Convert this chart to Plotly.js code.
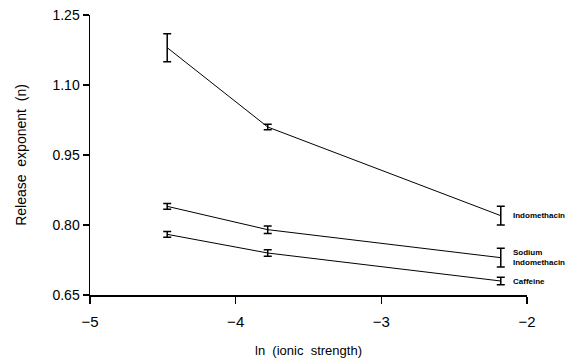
<!DOCTYPE html>
<html>
<head>
<meta charset="utf-8">
<script src="https://cdn.plot.ly/plotly-3.0.1.min.js"></script>
<style>html,body{margin:0;padding:0;background:#fff;}#chart{width:568px;height:358px;}</style>
</head>
<body>
<div id="chart"></div>
<script>
// ln(ionic strength)
const lnIonicStrength = [-4.47, -3.78, -2.18];

const seriesNames = ["Indomethacin", "Sodium<br>Indomethacin", "Caffeine"];
const indomethacin = [1.18, 1.01, 0.82];
const indomethacinErr = [0.03, 0.006, 0.02];
const sodiumIndomethacin = [0.84, 0.79, 0.73];
const sodiumIndomethacinErr = [0.006, 0.008, 0.02];
const caffeine = [0.78, 0.74, 0.68];
const caffeineErr = [0.006, 0.007, 0.008];

const yTicks = [0.65, 0.80, 0.95, 1.10, 1.25];
const xTicks = [-5, -4, -3, -2];

const allY = [indomethacin, sodiumIndomethacin, caffeine];
const allErr = [indomethacinErr, sodiumIndomethacinErr, caffeineErr];

const traces = allY.map((ys, i) => ({
  x: lnIonicStrength,
  y: ys,
  type: "scatter",
  mode: "lines",
  name: seriesNames[i],
  line: {color: "#000", width: 1},
  error_y: {type: "data", array: allErr[i], visible: true, color: "#000", thickness: 1.5, width: 4},
  showlegend: false,
  hoverinfo: "skip"
}));

const annotations = allY.map((ys, i) => ({
  x: lnIonicStrength[lnIonicStrength.length - 1],
  y: ys[ys.length - 1],
  xref: "x", yref: "y",
  text: "<b>" + seriesNames[i] + "</b>",
  showarrow: false,
  xanchor: "left",
  align: "left",
  xshift: 10,
  font: {family: "Liberation Sans, Arial, sans-serif", size: 8, color: "#000"}
}));

const layout = {
  width: 568, height: 358,
  margin: {l: 90, r: 41, t: 15, b: 63},
  paper_bgcolor: "#fff", plot_bgcolor: "#fff",
  font: {family: "Liberation Sans, Arial, sans-serif", color: "#000", size: 13},
  xaxis: {
    range: [-5, -2], tickvals: xTicks, ticktext: xTicks.map(v => v < 0 ? "\u2212" + Math.abs(v) : String(v)),
    showgrid: false, zeroline: false, showline: true, linecolor: "#000", linewidth: 1.5,
    ticks: "outside", ticklen: 7, tickwidth: 1.2, tickcolor: "#000",
    tickfont: {size: 15}, ticklabelstandoff: 5,
    title: {text: "ln&nbsp;&nbsp;(ionic&nbsp;&nbsp;strength)", font: {size: 13}, standoff: 18}
  },
  yaxis: {
    range: [0.65, 1.25], tickvals: yTicks, ticktext: yTicks.map(v => v.toFixed(2)),
    showgrid: false, zeroline: false, showline: true, linecolor: "#000", linewidth: 1.5,
    ticks: "outside", ticklen: 6, tickwidth: 1.2, tickcolor: "#000",
    tickfont: {size: 14},
    title: {text: "Release&nbsp;&nbsp;exponent&nbsp;&nbsp;(n)", font: {size: 14}, standoff: 22}
  },
  annotations: annotations
};

Plotly.newPlot("chart", traces, layout, {displayModeBar: false, staticPlot: true});
</script>
</body>
</html>
